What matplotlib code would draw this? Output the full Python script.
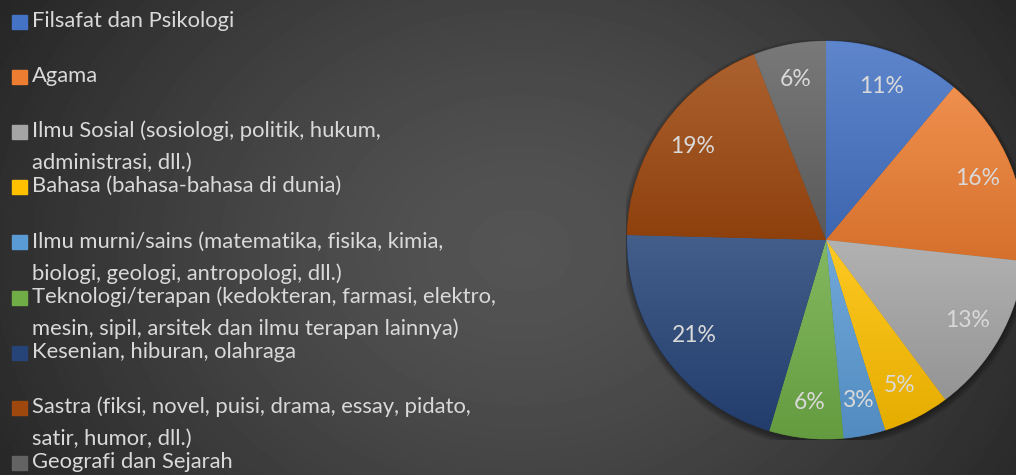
import numpy as np
import matplotlib.pyplot as plt
from matplotlib.colors import to_rgb
from matplotlib.patches import Rectangle, Circle

# data
categories = [
    'Filsafat dan Psikologi',
    'Agama',
    'Ilmu Sosial (sosiologi, politik, hukum,\nadministrasi, dll.)',
    'Bahasa (bahasa-bahasa di dunia)',
    'Ilmu murni/sains (matematika, fisika, kimia,\nbiologi, geologi, antropologi, dll.)',
    'Teknologi/terapan (kedokteran, farmasi, elektro,\nmesin, sipil, arsitek dan ilmu terapan lainnya)',
    'Kesenian, hiburan, olahraga',
    'Sastra (fiksi, novel, puisi, drama, essay, pidato,\nsatir, humor, dll.)',
    'Geografi dan Sejarah',
]
shares = [11.1, 15.6, 13.1, 5.4, 3.4, 6.0, 20.8, 18.7, 5.9]
colors = ['#4472C4', '#ED7D31', '#A5A5A5', '#FFC000', '#5B9BD5',
          '#70AD47', '#264478', '#9E480E', '#636363']

W, H = 1016, 475
txt_color = '#d9d9d9'
fig = plt.figure(figsize=(W / 100, H / 100), dpi=100)

# radial background
bg = fig.add_axes([0, 0, 1, 1])
yy, xx = np.mgrid[0:H, 0:W]
d = np.sqrt((xx - 520) ** 2 + ((yy - 250) / 0.8) ** 2)
t = np.clip(d / 600, 0, 1)
lum = 0.33 - 0.18 * t ** 1.4
bg.imshow(lum, cmap='gray', vmin=0, vmax=1, extent=[0, W, H, 0], aspect='auto')
bg.set_xlim(0, W)
bg.set_ylim(H, 0)
bg.axis('off')

# pie
R = 199
cx, cy = 826, 240
ax = fig.add_axes([(cx - 200) / W, (H - cy - 200) / H, 400 / W, 400 / H])
wedges, texts, autotexts = ax.pie(
    shares, colors=colors, startangle=90, counterclock=False,
    radius=R / 200, autopct='%.0f%%', pctdistance=0.82,
    textprops=dict(color=txt_color, fontsize=16.5, family='Lato'),
    wedgeprops=dict(linewidth=0.6))

# soft shadow under the pie
for k in range(6):
    ax.add_patch(Circle((0, -0.015), R / 200 + 0.006 * k, color='black',
                        alpha=0.07, zorder=0, lw=0))

# vertical shading inside each slice
for w, c in zip(wedges, colors):
    base = np.array(to_rgb(c))
    w.set_edgecolor(base * 0.75)
    verts = w.get_path().vertices
    x0, y0 = verts.min(0)
    x1, y1 = verts.max(0)
    top = base + (1 - base) * 0.14
    bot = base * 0.9
    g = np.linspace(0, 1, 64)[:, None]
    img = top * (1 - g) + bot * g
    img = np.repeat(img[:, None, :], 2, axis=1)
    im = ax.imshow(img, extent=[x0, x1, y0, y1], aspect='auto',
                   interpolation='bilinear', zorder=1.1)
    im.set_clip_path(w)

ax.set_xlim(-1, 1)
ax.set_ylim(-1, 1)
ax.set_aspect('equal')
ax.axis('off')

# legend
for i, (lab, c) in enumerate(zip(categories, colors)):
    y = 22 + 55.1 * i
    fig.patches.append(Rectangle((12 / W, 1 - (y + 7) / H), 15 / W, 14 / H,
                                 transform=fig.transFigure, color=c))
    for k, line in enumerate(lab.split('\n')):
        fig.text(32 / W, 1 - (y - 1 + 32 * k) / H, line, color=txt_color,
                 fontsize=15.8, family='Lato', va='center', ha='left')

fig.savefig('out.png', dpi=100)
